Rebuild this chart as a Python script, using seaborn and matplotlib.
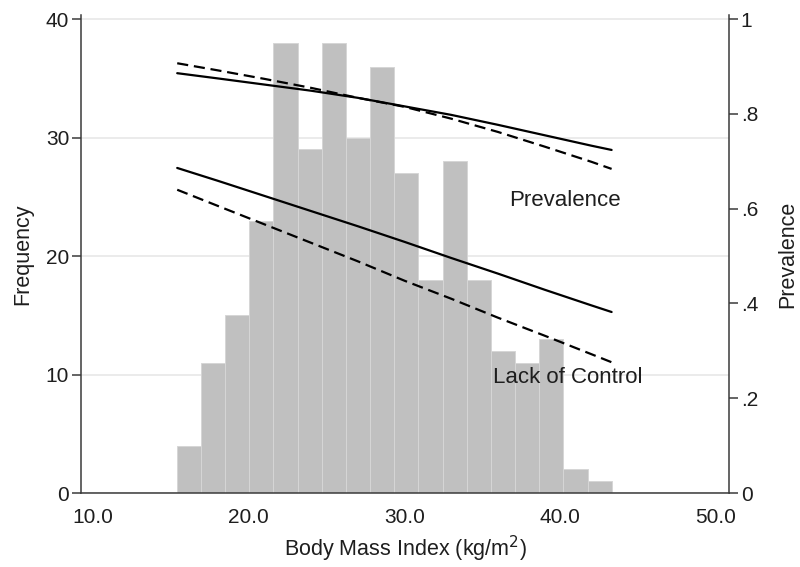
import numpy as np
import pandas as pd
import matplotlib
matplotlib.use("Agg")
import matplotlib.pyplot as plt
import seaborn as sns

# histogram of BMI, counts
bin_start = 15.37
bin_width = 1.552
counts = [4, 11, 15, 23, 38, 29, 38, 30, 36, 27, 18, 28, 18, 12, 11, 13, 2, 1]

# predicted curves (right axis), read at these BMI values
bmi_grid = [15.4, 18, 21, 24, 27, 30, 33, 36, 39, 42, 43.3]
prev_solid = [.886, .875, .862, .849, .834, .816, .798, .777, .755, .733, .724]
prev_dashed = [.907, .892, .874, .855, .834, .815, .790, .762, .731, .699, .684]
loc_solid = [.686, .659, .627, .595, .563, .530, .496, .463, .429, .396, .382]
loc_dashed = [.640, .606, .567, .528, .489, .448, .410, .370, .332, .293, .276]

x_ticks = [10, 20, 30, 40, 50]
freq_ticks = [0, 10, 20, 30, 40]
prev_ticks = [0, .2, .4, .6, .8, 1]
prev_labels = ["0", ".2", ".4", ".6", ".8", "1"]

sns.set_style("white")
plt.rcParams['font.family'] = ['Liberation Sans', 'DejaVu Sans']
ink = "#1e1e1e"

fig = plt.figure(figsize=(8, 5.67), dpi=100)
ax = fig.add_axes([0.10125, 0.1305, 0.81, 0.843])

hist = pd.DataFrame({
    "bmi": [bin_start + bin_width * (i + 0.5) for i in range(len(counts))],
    "n": counts,
})
sns.histplot(data=hist, x="bmi", weights="n", bins=len(counts),
             binrange=(bin_start, bin_start + bin_width * len(counts)),
             color="#c0c0c0", alpha=1, edgecolor="#d6d6d6", linewidth=0.7, ax=ax)

ax.set_xlim(9.22, 50.84)
ax.set_ylim(0, 40.35)
ax.set_xticks(x_ticks)
ax.set_xticklabels([f"{v:.1f}" for v in x_ticks])
ax.set_yticks(freq_ticks)
ax.yaxis.grid(True, color="#e8e8e8", linewidth=1.2)
ax.set_axisbelow(True)
ax.set_xlabel("Body Mass Index (kg/m$^2$)", fontsize=15.5, color=ink, labelpad=5)
ax.set_ylabel("Frequency", fontsize=15.5, color=ink, labelpad=9)

ax2 = ax.twinx()
curves = pd.DataFrame({"bmi": bmi_grid, "ps": prev_solid, "pd": prev_dashed,
                       "ls": loc_solid, "ld": loc_dashed})
sns.lineplot(data=curves, x="bmi", y="ps", color="black", linewidth=1.6, ax=ax2)
sns.lineplot(data=curves, x="bmi", y="pd", color="black", linewidth=1.6,
             linestyle=(0, (5, 2.6)), ax=ax2)
sns.lineplot(data=curves, x="bmi", y="ls", color="black", linewidth=1.6, ax=ax2)
sns.lineplot(data=curves, x="bmi", y="ld", color="black", linewidth=1.6,
             linestyle=(0, (5, 2.6)), ax=ax2)
ax2.set_ylim(0, 40.35 / 40)
ax2.set_yticks(prev_ticks)
ax2.set_yticklabels(prev_labels)
ax2.set_ylabel("Prevalence", fontsize=15.5, color=ink, labelpad=14)
ax2.set_xlabel("")

ax2.text(40.3, .617, "Prevalence", fontsize=16, color=ink, ha="center", va="center")
ax2.text(40.5, .244, "Lack of Control", fontsize=16, color=ink, ha="center", va="center")

for a in (ax, ax2):
    a.spines["top"].set_visible(False)
    for s in ("left", "right", "bottom"):
        a.spines[s].set_color("#3a3a3a")
        a.spines[s].set_linewidth(1.1)
    a.tick_params(axis="both", direction="out", length=6.5, width=1.1,
                  colors="#3a3a3a", labelsize=15, labelcolor=ink, pad=2)
ax.tick_params(axis="x", pad=4)
ax.spines["right"].set_visible(False)
ax2.spines["left"].set_visible(False)
ax2.spines["bottom"].set_visible(False)
ax.tick_params(axis="y", left=True)
ax2.tick_params(axis="y", right=True)

fig.savefig("out.png", dpi=100)
